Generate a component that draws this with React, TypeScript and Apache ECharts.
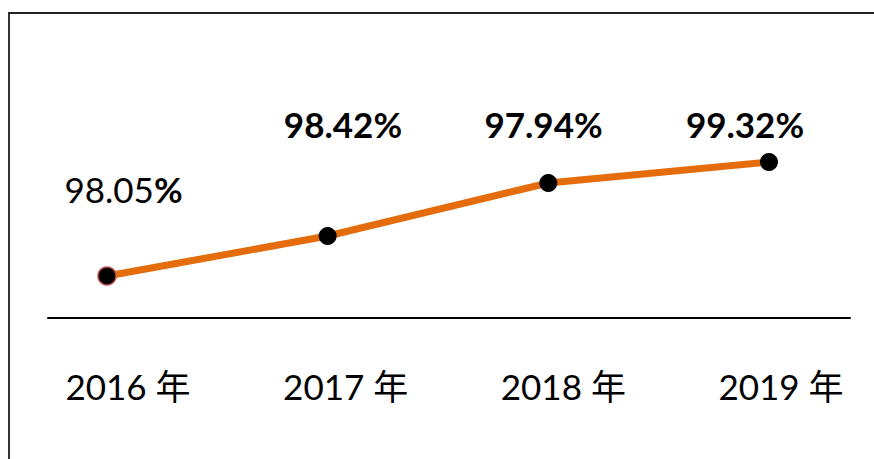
import React, { useEffect, useRef } from "react";
import * as echarts from "echarts";

// Categories (x axis)
const years = ["2016 年", "2017 年", "2018 年", "2019 年"];
// Value labels shown above the line (as printed)
const valueLabels = ["98.05", "98.42", "97.94", "99.32"];
// Line heights as drawn in the picture (relative level, 0–100 scale of plot area)
const lineLevels = [21, 41, 67.5, 78];

// Styling (label placement offsets relative to each point)
const labelOffsets: [number, number][] = [
  [16.5, -87],
  [15.3, -112],
  [-4.8, -59],
  [-24, -38],
];

const FONT = "Lato, 'Noto Sans CJK SC', sans-serif";

export default function App() {
  const ref = useRef<HTMLDivElement>(null);

  useEffect(() => {
    document.body.style.margin = "0";
    if (!ref.current) return;
    const chart = echarts.init(ref.current, null, { renderer: "svg" });

    const seriesData = lineLevels.map((v, i) => ({
      value: v,
      itemStyle:
        i === 0
          ? { color: "#000", borderColor: "#C0504D", borderWidth: 1.5 }
          : { color: "#000", borderWidth: 0 },
      label: {
        show: true,
        position: "inside" as const,
        offset: labelOffsets[i],
        formatter: i === 0 ? `{n|${valueLabels[i]}}{p|%}` : `{b|${valueLabels[i]}%}`,
      },
    }));

    chart.setOption({
      animation: false,
      backgroundColor: "transparent",
      grid: [
        { left: 48, right: 24, top: 100, bottom: 141 },
        { left: 107, right: 105, top: 118, bottom: 141 },
        { left: 128, right: 93, top: 118, bottom: 141 },
      ],
      xAxis: [
        {
          type: "category",
          gridIndex: 0,
          data: years,
          boundaryGap: true,
          axisLine: { show: true, lineStyle: { color: "#000", width: 2 } },
          axisTick: { show: false },
          axisLabel: { show: false },
        },
        {
          type: "category",
          gridIndex: 1,
          data: years,
          boundaryGap: false,
          show: false,
        },
        {
          type: "category",
          gridIndex: 2,
          data: years,
          boundaryGap: false,
          axisLine: { show: false },
          axisTick: { show: false },
          axisLabel: {
            show: true,
            interval: 0,
            margin: 50,
            color: "#000",
            fontSize: 35,
            fontFamily: FONT,
          },
        },
      ],
      yAxis: [
        { type: "value", gridIndex: 0, show: false, min: 0, max: 100 },
        { type: "value", gridIndex: 1, show: false, min: 0, max: 100 },
        { type: "value", gridIndex: 2, show: false, min: 0, max: 100 },
      ],
      series: [
        {
          type: "line",
          xAxisIndex: 1,
          yAxisIndex: 1,
          data: seriesData,
          symbol: "circle",
          symbolSize: 18,
          lineStyle: { color: "#E46C0A", width: 7 },
          label: {
            show: true,
            color: "#000",
            fontFamily: FONT,
            rich: {
              n: { fontSize: 35, fontFamily: FONT, color: "#000", fontWeight: "normal" },
              p: { fontSize: 35, fontFamily: FONT, color: "#000", fontWeight: "bold" },
              b: { fontSize: 35, fontFamily: FONT, color: "#000", fontWeight: "bold" },
            },
          },
          z: 3,
        },
      ],
    });

    return () => chart.dispose();
  }, []);

  return (
    <div style={{ position: "relative", width: 874, height: 459, background: "#fff" }}>
      <div
        style={{
          position: "absolute",
          left: 8,
          top: 12,
          right: 0,
          bottom: 0,
          borderLeft: "2px solid #333",
          borderTop: "2px solid #222",
        }}
      />
      <div ref={ref} style={{ position: "absolute", left: 0, top: 0, width: 874, height: 459 }} />
    </div>
  );
}
